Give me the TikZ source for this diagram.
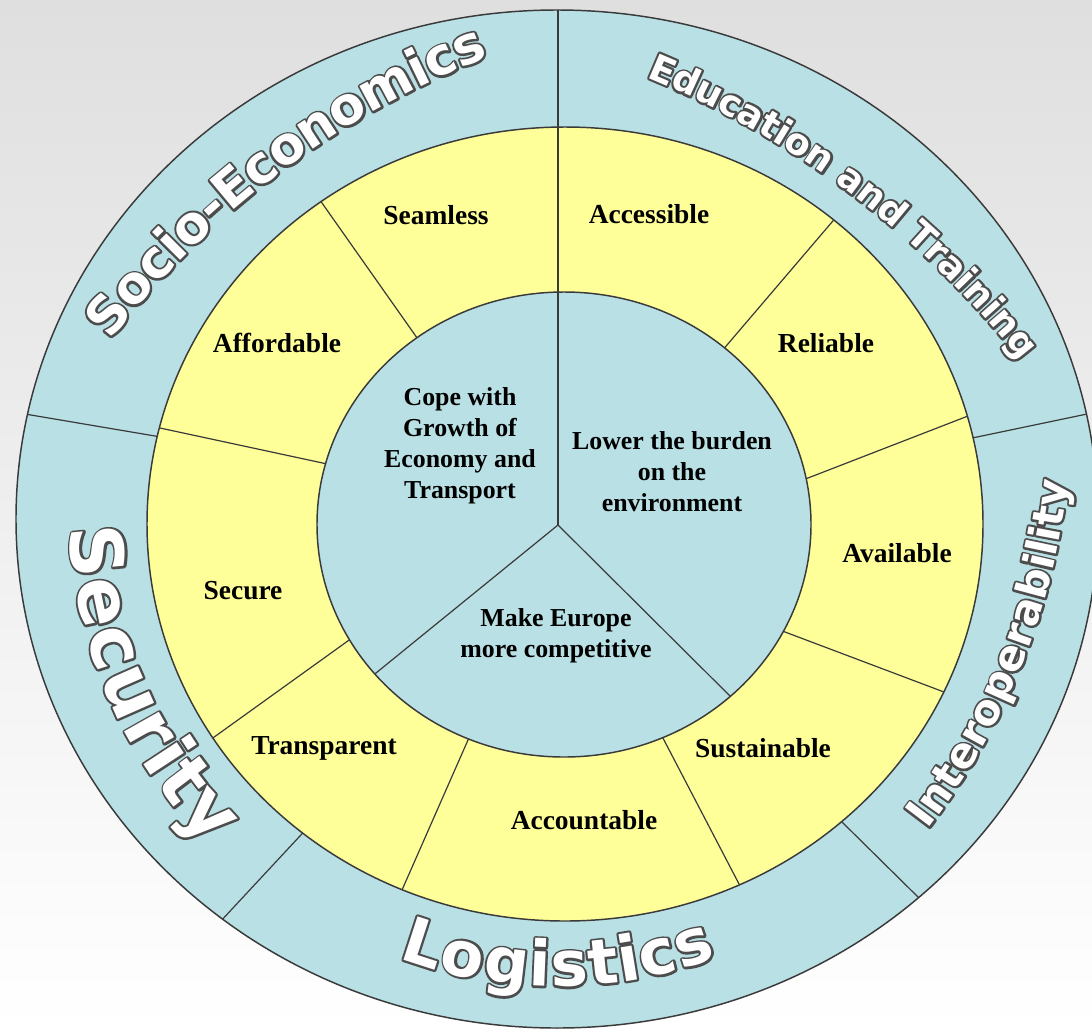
\documentclass[tikz,border=0pt]{standalone}
\usepackage{fontspec}
\setmainfont{Liberation Serif}
\newfontfamily\wafont{DejaVu Sans}
\usetikzlibrary{decorations.text,calc}
\definecolor{ringblue}{HTML}{B9E0E4}
\definecolor{ringyellow}{HTML}{FFFF99}
\definecolor{bgtop}{HTML}{DFDFDF}
\definecolor{edge}{HTML}{3A3A3A}
\tikzset{
  divider/.style={draw=edge, line width=0.9pt},
  rim/.style={draw=edge, line width=1.1pt},
  ylabel/.style={font=\bfseries\fontsize{20.6}{24}\selectfont, text=black, inner sep=0pt},
  ilabel/.style={font=\bfseries\fontsize{19.4}{23.3}\selectfont, text=black, align=center, inner sep=0pt},
}
% stroke-only text (outline) and plain fill
\newcommand\olstroke{\special{pdf:literal direct 1 Tr 3.2 w 1 j 0.3 0.3 0.3 RG}}
\newcommand\olfill{\special{pdf:literal direct 0 Tr}}
% #1 centre, #2 radius, #3 start angle, #4 end angle, #5 font size (pt), #6 raise (pt), #7 text
\newcommand\wordart[7]{%
  \path[decorate, decoration={text along path,
      text={|\wafont\bfseries\fontsize{#5pt}{#5pt}\selectfont\olstroke|#7},
      text align=center, raise=#6pt}]
      (#1) ++(#3:#2) arc[start angle=#3, end angle=#4, radius=#2];
  \path[decorate, decoration={text along path,
      text={|\wafont\bfseries\fontsize{#5pt}{#5pt}\selectfont\color{white}\olfill|#7},
      text align=center, raise=#6pt}]
      (#1) ++(#3:#2) arc[start angle=#3, end angle=#4, radius=#2];
}
\begin{document}
\begin{tikzpicture}[x=0.75pt,y=0.75pt]
\useasboundingbox (0,0) rectangle (1092,-1029);
\shade[top color=bgtop, bottom color=white] (0,0) rectangle (1092,-1029);

\coordinate (oc) at (557,-519);
\coordinate (yc) at (565,-524);
\coordinate (ic) at (564,-524.5);
\coordinate (hub) at (558,-525);
\coordinate (top) at (558,-10);

% outer ring dividers
\coordinate (bLo) at (25,-414);    \coordinate (bLi) at (155,-436);
\coordinate (bRo) at (1087,-414);  \coordinate (bRi) at (977,-437);
\coordinate (bSWo) at (219,-923);  \coordinate (bSWi) at (299,-837);
\coordinate (bSEo) at (919,-898);  \coordinate (bSEi) at (843,-823);

\fill[ringblue] (oc) ellipse[x radius=541, y radius=509];
\begin{scope}
  \clip (oc) ellipse[x radius=541, y radius=509];
  \foreach \p in {L,R,SW,SE}{
    \draw[divider] ($(b\p o)!-0.3!(b\p i)$) -- ($(b\p o)!1.2!(b\p i)$);
  }
\end{scope}
\draw[rim] (oc) ellipse[x radius=541, y radius=509];

% yellow ring dividers
\coordinate (y2o) at (322,-203);  \coordinate (y2i) at (415,-335);
\coordinate (y3o) at (160,-428);  \coordinate (y3i) at (318,-462);
\coordinate (y4o) at (217,-735);  \coordinate (y4i) at (345,-643);
\coordinate (y5o) at (402,-890);  \coordinate (y5i) at (468,-740);
\coordinate (y6o) at (738,-882);  \coordinate (y6i) at (665,-742);
\coordinate (y7o) at (944,-692);  \coordinate (y7i) at (785,-632);
\coordinate (y8o) at (968,-416);  \coordinate (y8i) at (808,-478);
\coordinate (y9o) at (832,-222);  \coordinate (y9i) at (727,-345);

\fill[ringyellow] (yc) ellipse[x radius=418, y radius=397];
\begin{scope}
  \clip (yc) ellipse[x radius=418, y radius=397];
  \foreach \i in {2,...,9}{
    \draw[divider] ($(y\i o)!-0.1!(y\i i)$) -- ($(y\i o)!1.12!(y\i i)$);
  }
\end{scope}
\draw[rim] (yc) ellipse[x radius=418, y radius=397];

% inner circle
\coordinate (sL) at (376,-673);
\coordinate (sR) at (729,-695);
\fill[ringblue] (ic) ellipse[x radius=247, y radius=232.5];
\begin{scope}
  \clip (ic) ellipse[x radius=247, y radius=232.5];
  \draw[divider] (hub) -- ($(hub)!1.1!(sL)$);
  \draw[divider] (hub) -- ($(hub)!1.1!(sR)$);
\end{scope}
\draw[rim] (ic) ellipse[x radius=247, y radius=232.5];
\draw[divider] (top) -- (hub);

% yellow ring labels
\node[ylabel] (seamless) at (436,-215) {Seamless};
\node[ylabel] (accessible) at (649,-214) {Accessible};
\node[ylabel] (affordable) at (277,-343) {Affordable};
\node[ylabel] (reliable) at (826,-343) {Reliable};
\node[ylabel] (secure) at (243,-591) {Secure};
\node[ylabel] (available) at (897,-553) {Available};
\node[ylabel] (transparent) at (324,-748) {Transparent};
\node[ylabel] (sustainable) at (763,-748) {Sustainable};
\node[ylabel] (accountable) at (584,-820) {Accountable};

% inner labels
\node[ilabel] (cope) at (460,-446) {Cope with\\Growth of\\Economy and\\Transport};
\node[ilabel] (lower) at (672,-472) {Lower the burden\\on the\\environment};
\node[ilabel] (make) at (556,-636) {Make Europe\\more competitive};

% outer ring word-art labels
\wordart{809,-878}{898.6}{149.87}{103.87}{39}{-12.9}{Socio-Economics}
\wordart{297,-926.9}{930.9}{74.85}{30.85}{27.6}{-9.1}{Education and Training}
\wordart{544,-509.2}{450.7}{173.7}{233.7}{54.75}{-18}{Security}
\wordart{557.5,-530.5}{435.3}{240}{300}{47}{-15.5}{Logistics}
\wordart{385,-409.1}{672.7}{-46.9}{3.1}{31.65}{-10.4}{Interoperability}
\end{tikzpicture}
\end{document}
